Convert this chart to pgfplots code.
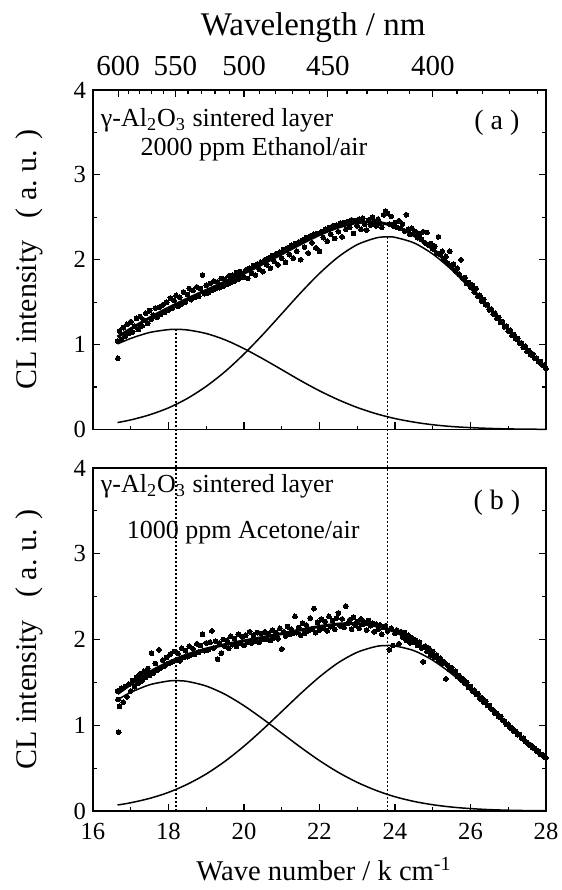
\documentclass[border=0pt]{standalone}
\usepackage{fontspec}
\setmainfont{Liberation Serif}
\usepackage{pgfplots}
\usepackage{pgfplotstable}
\pgfplotsset{compat=1.18}

\pgfplotstableread[row sep=\\]{
x y\\
16.65 1.04\\ 16.66 0.84\\ 16.70 1.16\\ 16.75 1.06\\ 16.80 1.20\\ 16.85 1.10\\ 16.90 1.24\\ 16.95 1.13\\
17.00 1.27\\ 17.05 1.15\\ 17.10 1.22\\ 17.15 1.31\\ 17.20 1.18\\ 17.25 1.33\\ 17.30 1.22\\ 17.35 1.29\\
17.40 1.37\\ 17.45 1.25\\ 17.50 1.40\\ 17.55 1.30\\ 17.60 1.35\\ 17.65 1.43\\ 17.70 1.32\\ 17.75 1.44\\
17.80 1.36\\ 17.85 1.47\\ 17.90 1.38\\ 17.95 1.50\\ 18.00 1.41\\ 18.05 1.55\\ 18.10 1.43\\ 18.15 1.52\\
18.20 1.58\\ 18.25 1.45\\ 18.30 1.56\\ 18.35 1.48\\ 18.40 1.62\\ 18.45 1.50\\ 18.50 1.59\\ 18.55 1.66\\
18.60 1.53\\ 18.65 1.64\\ 18.70 1.56\\ 18.75 1.68\\ 18.80 1.57\\ 18.85 1.66\\ 18.90 1.82\\ 18.95 1.60\\
19.00 1.70\\ 19.05 1.61\\ 19.10 1.72\\ 19.15 1.64\\ 19.20 1.75\\ 19.25 1.66\\ 19.30 1.74\\ 19.35 1.67\\
19.40 1.78\\ 19.45 1.69\\ 19.50 1.77\\ 19.55 1.71\\ 19.60 1.81\\ 19.65 1.73\\ 19.70 1.82\\ 19.75 1.75\\
19.80 1.85\\ 19.85 1.77\\ 19.90 1.86\\ 19.95 1.79\\ 20.00 1.80\\ 20.05 1.88\\ 20.10 1.78\\ 20.15 1.90\\
20.20 1.84\\ 20.25 1.93\\ 20.30 1.82\\ 20.35 1.95\\ 20.40 1.89\\ 20.45 1.97\\ 20.50 1.86\\ 20.55 2.00\\
20.60 1.94\\ 20.65 2.02\\ 20.70 1.90\\ 20.75 2.05\\ 20.80 1.98\\ 20.85 2.07\\ 20.90 1.94\\ 20.95 2.09\\
21.00 2.02\\ 21.05 2.12\\ 21.10 1.97\\ 21.15 2.14\\ 21.20 2.06\\ 21.25 2.17\\ 21.30 2.02\\ 21.35 2.19\\
21.40 2.10\\ 21.45 2.21\\ 21.50 2.00\\ 21.55 2.23\\ 21.60 2.15\\ 21.65 2.26\\ 21.70 2.08\\ 21.75 2.28\\
21.80 2.20\\ 21.85 2.30\\ 21.90 2.14\\ 21.95 2.31\\ 22.00 2.10\\ 22.05 2.33\\ 22.10 2.26\\ 22.15 2.36\\
22.20 2.22\\ 22.25 2.38\\ 22.30 2.30\\ 22.35 2.40\\ 22.40 2.25\\ 22.45 2.41\\ 22.50 2.33\\ 22.55 2.43\\
22.60 2.27\\ 22.65 2.44\\ 22.70 2.36\\ 22.75 2.45\\ 22.80 2.38\\ 22.85 2.47\\ 22.90 2.31\\ 22.95 2.46\\
23.00 2.40\\ 23.05 2.48\\ 23.10 2.36\\ 23.15 2.49\\ 23.20 2.42\\ 23.25 2.35\\ 23.30 2.47\\ 23.35 2.41\\
23.40 2.50\\ 23.45 2.44\\ 23.50 2.40\\ 23.55 2.48\\ 23.60 2.43\\ 23.65 2.38\\ 23.70 2.53\\ 23.75 2.57\\
23.80 2.55\\ 23.85 2.42\\ 23.90 2.51\\ 23.95 2.40\\ 24.00 2.44\\ 24.05 2.38\\ 24.10 2.46\\ 24.15 2.37\\
24.20 2.42\\ 24.25 2.34\\ 24.30 2.53\\ 24.35 2.36\\ 24.40 2.30\\ 24.45 2.37\\ 24.50 2.31\\ 24.55 2.33\\
24.60 2.26\\ 24.65 2.30\\ 24.70 2.24\\ 24.75 2.33\\ 24.80 2.20\\ 24.85 2.32\\ 24.90 2.17\\ 24.95 2.19\\
25.00 2.13\\ 25.05 2.16\\ 25.10 2.08\\ 25.15 2.27\\ 25.20 2.06\\ 25.25 2.10\\ 25.30 2.00\\ 25.35 2.04\\
25.40 1.96\\ 25.45 2.10\\ 25.50 1.93\\ 25.55 1.95\\ 25.60 1.87\\ 25.65 1.90\\ 25.70 1.83\\ 25.75 2.00\\
25.80 1.78\\ 25.85 1.79\\ 25.90 1.72\\ 25.95 1.73\\ 26.00 1.68\\ 26.05 1.70\\ 26.10 1.62\\ 26.15 1.66\\
26.20 1.57\\ 26.25 1.58\\ 26.30 1.51\\ 26.35 1.53\\ 26.40 1.47\\ 26.45 1.47\\ 26.50 1.41\\ 26.55 1.42\\
26.60 1.36\\ 26.65 1.37\\ 26.70 1.31\\ 26.75 1.32\\ 26.80 1.26\\ 26.85 1.27\\ 26.90 1.21\\ 26.95 1.22\\
27.00 1.16\\ 27.05 1.17\\ 27.10 1.11\\ 27.15 1.12\\ 27.20 1.07\\ 27.25 1.07\\ 27.30 1.02\\ 27.35 1.02\\
27.40 0.97\\ 27.45 0.98\\ 27.50 0.92\\ 27.55 0.93\\ 27.60 0.88\\ 27.65 0.89\\ 27.70 0.84\\ 27.75 0.84\\
27.80 0.80\\ 27.85 0.80\\ 27.90 0.76\\ 27.95 0.76\\ 28.00 0.72\\
}\dataA

\pgfplotstableread[row sep=\\]{
x y\\
16.65 1.40\\ 16.66 1.30\\ 16.68 0.92\\ 16.70 1.22\\ 16.75 1.43\\ 16.80 1.27\\ 16.85 1.45\\ 16.90 1.33\\ 16.95 1.48\\
17.00 1.40\\ 17.05 1.52\\ 17.10 1.45\\ 17.15 1.56\\ 17.20 1.49\\ 17.25 1.60\\ 17.30 1.52\\ 17.35 1.63\\
17.40 1.56\\ 17.45 1.66\\ 17.50 1.58\\ 17.55 1.84\\ 17.60 1.61\\ 17.65 1.72\\ 17.70 1.64\\ 17.75 1.88\\
17.80 1.67\\ 17.85 1.76\\ 17.90 1.69\\ 17.95 1.79\\ 18.00 1.72\\ 18.05 1.83\\ 18.10 1.74\\ 18.15 1.86\\
18.20 1.76\\ 18.25 1.84\\ 18.30 1.75\\ 18.35 1.90\\ 18.40 1.79\\ 18.45 1.87\\ 18.50 1.80\\ 18.55 1.92\\
18.60 1.82\\ 18.65 1.89\\ 18.70 1.83\\ 18.75 1.95\\ 18.80 1.85\\ 18.85 1.93\\ 18.90 2.06\\ 18.95 1.87\\
19.00 1.96\\ 19.05 1.88\\ 19.10 1.97\\ 19.15 2.10\\ 19.20 1.90\\ 19.25 1.98\\ 19.30 1.77\\ 19.35 1.96\\
19.40 1.84\\ 19.45 2.00\\ 19.50 1.92\\ 19.55 1.99\\ 19.60 1.90\\ 19.65 2.04\\ 19.70 1.94\\ 19.75 2.01\\
19.80 1.92\\ 19.85 2.06\\ 19.90 1.96\\ 19.95 2.03\\ 20.00 1.93\\ 20.05 2.05\\ 20.10 1.97\\ 20.15 2.09\\
20.20 1.96\\ 20.25 2.05\\ 20.30 1.98\\ 20.35 2.08\\ 20.40 1.97\\ 20.45 2.07\\ 20.50 2.00\\ 20.55 2.09\\
20.60 2.00\\ 20.65 2.07\\ 20.70 1.99\\ 20.75 2.11\\ 20.80 2.02\\ 20.85 2.08\\ 20.90 2.01\\ 20.95 2.13\\
21.00 1.89\\ 21.05 2.09\\ 21.10 2.04\\ 21.15 2.15\\ 21.20 2.06\\ 21.25 2.12\\ 21.30 2.07\\ 21.35 2.27\\
21.40 2.08\\ 21.45 2.14\\ 21.50 2.05\\ 21.55 2.19\\ 21.60 2.07\\ 21.65 2.17\\ 21.70 2.10\\ 21.75 2.25\\
21.80 2.12\\ 21.85 2.36\\ 21.90 2.08\\ 21.95 2.20\\ 22.00 2.11\\ 22.05 2.24\\ 22.10 2.13\\ 22.15 2.21\\
22.20 2.10\\ 22.25 2.27\\ 22.30 2.15\\ 22.35 2.22\\ 22.40 2.12\\ 22.45 2.25\\ 22.50 2.31\\ 22.55 2.16\\
22.60 2.24\\ 22.65 2.14\\ 22.70 2.39\\ 22.75 2.19\\ 22.80 2.23\\ 22.85 2.12\\ 22.90 2.26\\ 22.95 2.17\\
23.00 2.21\\ 23.05 2.13\\ 23.10 2.24\\ 23.15 2.18\\ 23.20 2.20\\ 23.25 2.11\\ 23.30 2.22\\ 23.35 2.16\\
23.40 2.19\\ 23.45 2.09\\ 23.50 2.18\\ 23.55 2.12\\ 23.60 2.17\\ 23.65 2.06\\ 23.70 2.14\\ 23.75 2.16\\
23.80 2.10\\ 23.85 1.88\\ 23.90 2.13\\ 23.95 1.93\\ 24.00 2.07\\ 24.05 2.11\\ 24.10 1.95\\ 24.15 2.09\\
24.20 2.03\\ 24.25 2.08\\ 24.30 1.99\\ 24.35 2.05\\ 24.40 1.96\\ 24.45 2.02\\ 24.50 1.97\\ 24.55 1.99\\
24.60 1.93\\ 24.65 1.97\\ 24.70 1.90\\ 24.75 1.74\\ 24.80 1.92\\ 24.85 1.86\\ 24.90 1.90\\ 24.95 1.82\\
25.00 1.86\\ 25.05 1.79\\ 25.10 1.82\\ 25.15 1.76\\ 25.20 1.78\\ 25.25 1.72\\ 25.30 1.74\\ 25.35 1.54\\
25.40 1.70\\ 25.45 1.65\\ 25.50 1.67\\ 25.55 1.62\\ 25.60 1.63\\ 25.65 1.57\\ 25.70 1.58\\ 25.75 1.53\\
25.80 1.54\\ 25.85 1.49\\ 25.90 1.50\\ 25.95 1.44\\ 26.00 1.45\\ 26.05 1.40\\ 26.10 1.41\\ 26.15 1.36\\
26.20 1.37\\ 26.25 1.31\\ 26.30 1.32\\ 26.35 1.27\\ 26.40 1.28\\ 26.45 1.23\\ 26.50 1.23\\ 26.55 1.19\\
26.60 1.18\\ 26.65 1.14\\ 26.70 1.14\\ 26.75 1.10\\ 26.80 1.10\\ 26.85 1.06\\ 26.90 1.05\\ 26.95 1.01\\
27.00 1.01\\ 27.05 0.97\\ 27.10 0.97\\ 27.15 0.93\\ 27.20 0.93\\ 27.25 0.89\\ 27.30 0.89\\ 27.35 0.85\\
27.40 0.85\\ 27.45 0.81\\ 27.50 0.80\\ 27.55 0.77\\ 27.60 0.77\\ 27.65 0.74\\ 27.70 0.73\\ 27.75 0.70\\
27.80 0.70\\ 27.85 0.66\\ 27.90 0.66\\ 27.95 0.63\\ 28.00 0.62\\
}\dataB

\pgfplotsset{
  panel/.style={
    scale only axis, width=226.5pt,
    xmin=16, xmax=28, ymin=0, ymax=4,
    xtick={16,18,...,28}, minor xtick={17,19,...,27},
    ytick={0,1,2,3,4}, minor ytick={0.5,1.5,2.5,3.5},
    xtick pos=left, ytick pos=both, yticklabel pos=left,
    tick align=inside,
    major tick length=3.5pt, minor tick length=1.8pt,
    axis line style={line width=0.9pt},
    every tick/.style={black, line width=0.6pt},
    /pgf/number format/assume math mode=true,
    tick label style={font=\fontsize{12.3}{14}\selectfont},
    xticklabel style={yshift=-2.5pt},
    ylabel={CL intensity\ \ \ ( a.\ u. )},
    ylabel style={font=\fontsize{15}{17}\selectfont, at={(axis description cs:-0.14,0.5)}, anchor=center},
    clip=false,
  },
  dots/.style={only marks, mark=*, mark size=1.2pt, mark options={fill=black, draw=black, line width=0pt}},
  comp/.style={black, line width=0.75pt, smooth, no markers},
  fit/.style={black, line width=1.5pt, smooth, no markers},
  vline/.style={black, line width=0.85pt, dash pattern=on 1pt off 1pt, no markers},
}
\tikzset{note/.style={font=\fontsize{13}{15}\selectfont, anchor=west, inner sep=0pt}}

\begin{document}
\begin{tikzpicture}
\path[use as bounding box] (-46.5pt,-39.5pt) rectangle (234.5pt,405.5pt);

% ---------- panel (a) ----------
\begin{axis}[panel, at={(0pt,190.75pt)}, anchor=south west, height=169.75pt, xticklabel=\empty]
\addplot[dots] table {\dataA};
\addplot[comp] coordinates {(16.65,1.008) (17,1.073) (17.5,1.143) (18,1.177) (18.2,1.18) (18.5,1.173) (19,1.131) (19.5,1.056) (20,0.953) (20.5,0.833) (21,0.705) (21.5,0.576) (22,0.456) (22.5,0.350) (23,0.259) (23.5,0.186) (24,0.129) (24.5,0.087) (25,0.056) (25.5,0.035) (26,0.022) (26.5,0.013) (27,0.007) (27.5,0.004) (28,0.002)};
\addplot[comp] coordinates {(16.65,0.082) (17,0.113) (17.5,0.173) (18,0.255) (18.5,0.366) (19,0.509) (19.5,0.683) (20,0.889) (20.5,1.119) (21,1.364) (21.5,1.610) (22,1.839) (22.5,2.034) (23,2.178) (23.5,2.257) (23.8,2.27) (24,2.264) (24.5,2.199) (25,2.067) (25.5,1.882) (26,1.658) (26.5,1.414) (27,1.168) (27.5,0.933) (28,0.722)};
\addplot[fit] coordinates {(16.65,1.090) (17,1.186) (17.5,1.315) (18,1.432) (18.5,1.539) (19,1.640) (19.5,1.739) (20,1.842) (20.5,1.953) (21,2.069) (21.5,2.187) (22,2.296) (22.5,2.384) (23,2.437) (23.5,2.443) (24,2.393) (24.5,2.286) (25,2.124) (25.5,1.917) (26,1.679) (26.5,1.427) (27,1.175) (27.5,0.937) (28,0.724)};
\addplot[vline] coordinates {(18.2,1.18) (18.2,-0.4536)};
\addplot[vline] coordinates {(23.8,2.27) (23.8,-0.4536)};
\node[note] at (axis cs:16.2,3.645) {γ-Al\textsubscript{2}O\textsubscript{3} sintered layer};
\node[note] at (axis cs:17.25,3.30) {2000 ppm Ethanol/air};
\node[font=\fontsize{14}{16}\selectfont] at (axis cs:26.7,3.61) {( a )};
\end{axis}

% wavelength scale on top of panel (a)
\begin{axis}[scale only axis, width=226.5pt, height=169.75pt, at={(0pt,190.75pt)}, anchor=south west,
  xmin=16, xmax=28, ymin=0, ymax=4,
  axis x line*=top, axis y line=none,
  axis line style={line width=0.9pt, -},
  tick align=inside,
  major tick length=3.5pt, minor tick length=1.8pt,
  every tick/.style={black, line width=0.6pt},
  xtick={16.667,18.182,20,22.222,25},
  xticklabels={600,550,500,450,400},
  minor xtick={16.949,17.241,17.544,17.857,18.519,18.868,19.231,19.608,20.408,20.833,21.277,21.739,22.727,23.256,23.810,24.390,25.641,26.316,27.027,27.778},
  tick label style={font=\fontsize{14.5}{16}\selectfont, yshift=3.5pt},
  xlabel={Wavelength / nm},
  xlabel style={font=\fontsize{16.5}{18}\selectfont, at={(axis description cs:0.486,1)}, yshift=31pt, anchor=center},
]
\addplot[draw=none] coordinates {(16,0) (28,4)};
\end{axis}

% ---------- panel (b) ----------
\begin{axis}[panel, at={(0pt,0pt)}, anchor=south west, height=171.5pt,
  xlabel={Wave number / k cm\textsuperscript{-1}},
  xlabel style={font=\fontsize{14.3}{16}\selectfont, at={(axis description cs:0.51,0)}, yshift=-29pt, anchor=center},
]
\addplot[dots] table {\dataB};
\addplot[comp] coordinates {(16.65,1.298) (17,1.383) (17.5,1.472) (18,1.516) (18.2,1.52) (18.5,1.511) (19,1.457) (19.5,1.360) (20,1.228) (20.5,1.073) (21,0.908) (21.5,0.743) (22,0.588) (22.5,0.450) (23,0.334) (23.5,0.240) (24,0.166) (24.5,0.112) (25,0.073) (25.5,0.046) (26,0.028) (26.5,0.016) (27,0.009) (27.5,0.005) (28,0.003)};
\addplot[comp] coordinates {(16.65,0.070) (17,0.096) (17.5,0.147) (18,0.217) (18.5,0.312) (19,0.432) (19.5,0.581) (20,0.756) (20.5,0.952) (21,1.160) (21.5,1.369) (22,1.564) (22.5,1.730) (23,1.851) (23.5,1.919) (23.8,1.93) (24,1.925) (24.5,1.870) (25,1.758) (25.5,1.600) (26,1.410) (26.5,1.202) (27,0.993) (27.5,0.793) (28,0.614)};
\addplot[fit] coordinates {(16.65,1.368) (17,1.478) (17.5,1.619) (18,1.733) (18.5,1.823) (19,1.890) (19.5,1.941) (20,1.984) (20.5,2.025) (21,2.068) (21.5,2.111) (22,2.152) (22.5,2.180) (23,2.185) (23.5,2.158) (24,2.091) (24.5,1.981) (25,1.830) (25.5,1.645) (26,1.437) (26.5,1.219) (27,1.002) (27.5,0.799) (28,0.617)};
\addplot[vline] coordinates {(18.2,0) (18.2,4)};
\addplot[vline] coordinates {(23.8,0) (23.8,4)};
\node[note] at (axis cs:16.2,3.79) {γ-Al\textsubscript{2}O\textsubscript{3} sintered layer};
\node[note] at (axis cs:16.89,3.25) {1000 ppm Acetone/air};
\node[font=\fontsize{14}{16}\selectfont] at (axis cs:26.7,3.59) {( b )};
\end{axis}
\end{tikzpicture}
\end{document}
